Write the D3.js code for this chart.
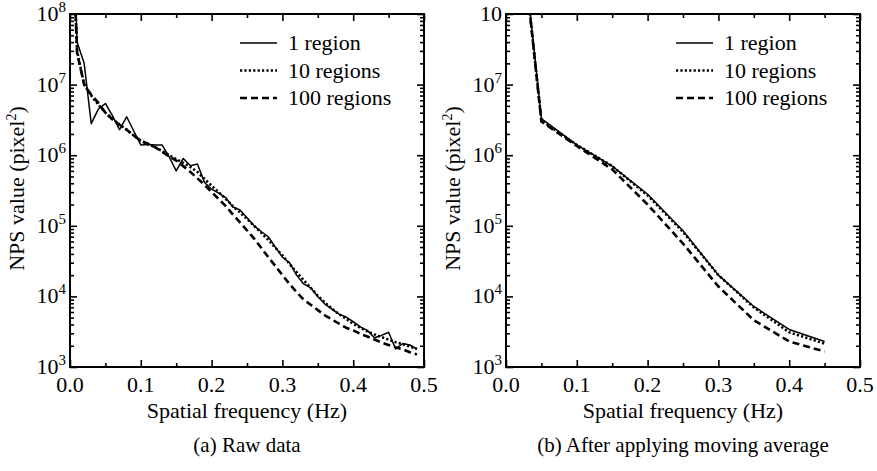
<!DOCTYPE html>
<html>
<head>
<meta charset="utf-8">
<script src="https://cdn.jsdelivr.net/npm/d3@7"></script>
<style>
  body { margin: 0; background: #fff; }
</style>
</head>
<body>
<div id="chart"></div>
<script>
"use strict";

// spatial frequency (Hz) of the raw spectrum
var freqRaw = [0.00, 0.01, 0.02, 0.03, 0.04, 0.05, 0.06, 0.07, 0.08, 0.09,
  0.10, 0.11, 0.12, 0.13, 0.14, 0.15, 0.16, 0.17, 0.18, 0.19,
  0.20, 0.21, 0.22, 0.23, 0.24, 0.25, 0.26, 0.27, 0.28, 0.29,
  0.30, 0.31, 0.32, 0.33, 0.34, 0.35, 0.36, 0.37, 0.38, 0.39,
  0.40, 0.41, 0.42, 0.43, 0.44, 0.45, 0.46, 0.47, 0.48, 0.49];

// NPS (pixel^2), raw data
var raw1 = [2.4e10, 4.0e7, 2.0e7, 2.8e6, 4.5e6, 5.4e6, 3.6e6, 2.3e6, 3.5e6, 2.2e6,
  1.40e6, 1.42e6, 1.40e6, 1.40e6, 9.5e5, 6.0e5, 9.0e5, 7.1e5, 7.5e5, 4.1e5,
  3.3e5, 2.9e5, 2.5e5, 1.85e5, 1.68e5, 1.3e5, 1.0e5, 8.3e4, 7.0e4, 5.0e4,
  3.6e4, 3.0e4, 2.0e4, 1.5e4, 1.32e4, 1.0e4, 7.8e3, 6.6e3, 5.6e3, 5.1e3,
  4.4e3, 3.7e3, 3.3e3, 2.6e3, 2.8e3, 3.1e3, 1.8e3, 2.15e3, 2.05e3, 1.8e3];
var raw10 = [1.5e10, 3.0e7, 1.0e7, 7.0e6, 5.2e6, 4.0e6, 3.3e6, 2.7e6, 2.3e6, 1.9e6,
  1.6e6, 1.45e6, 1.3e6, 1.15e6, 1.0e6, 8.8e5, 7.8e5, 6.8e5, 5.8e5, 4.6e5,
  3.7e5, 3.0e5, 2.4e5, 1.9e5, 1.55e5, 1.25e5, 1.0e5, 8.0e4, 6.3e4, 4.9e4,
  3.8e4, 2.9e4, 2.2e4, 1.7e4, 1.32e4, 1.02e4, 8.2e3, 6.7e3, 5.6e3, 4.8e3,
  4.1e3, 3.6e3, 3.2e3, 2.9e3, 2.65e3, 2.45e3, 2.25e3, 2.1e3, 1.95e3, 1.8e3];
var raw100 = [1.5e10, 2.8e7, 1.0e7, 7.2e6, 5.5e6, 4.0e6, 3.2e6, 2.7e6, 2.3e6, 1.9e6,
  1.6e6, 1.45e6, 1.3e6, 1.12e6, 9.6e5, 8.4e5, 7.0e5, 5.8e5, 4.7e5, 3.8e5,
  3.0e5, 2.4e5, 1.9e5, 1.45e5, 1.12e5, 8.6e4, 6.6e4, 4.9e4, 3.6e4, 2.7e4,
  2.0e4, 1.5e4, 1.15e4, 9.0e3, 7.6e3, 6.4e3, 5.4e3, 4.7e3, 4.1e3, 3.6e3,
  3.3e3, 2.95e3, 2.7e3, 2.45e3, 2.22e3, 2.05e3, 1.9e3, 1.78e3, 1.62e3, 1.5e3];

// after moving average
var freqAvg = [0.00, 0.05, 0.10, 0.15, 0.20, 0.25, 0.30, 0.35, 0.40, 0.45];
var avg1 = [1.8e11, 3.3e6, 1.4e6, 7.0e5, 2.8e5, 8.5e4, 2.0e4, 7.2e3, 3.4e3, 2.3e3];
var avg10 = [1.5e11, 3.1e6, 1.4e6, 7.0e5, 2.7e5, 8.2e4, 2.0e4, 7.0e3, 3.1e3, 2.15e3];
var avg100 = [1.5e11, 3.0e6, 1.35e6, 6.3e5, 2.0e5, 5.6e4, 1.38e4, 4.6e3, 2.3e3, 1.66e3];

var seriesNames = ["1 region", "10 regions", "100 regions"];
var xTicks = [0.0, 0.1, 0.2, 0.3, 0.4, 0.5];
var xTickLabels = ["0.0", "0.1", "0.2", "0.3", "0.4", "0.5"];
var xMinorTicks = [0.05, 0.15, 0.25, 0.35, 0.45];
var yTicks = [1e3, 1e4, 1e5, 1e6, 1e7, 1e8];
var yExpLeft = ["3", "4", "5", "6", "7", "8"];
var yExpRight = ["3", "4", "5", "6", "7", ""];   // the top label reads just "10"
var captions = ["(a) Raw data", "(b) After applying moving average"];

var width = 877, height = 471;
var serif = "'Liberation Serif', 'Times New Roman', serif";
var styles = [
  {w: 1.5, dash: null},
  {w: 2.6, dash: "2.2,2.2"},
  {w: 2.6, dash: "7,4"}
];

var svg = d3.select("#chart").append("svg")
  .attr("width", width).attr("height", height);

function label(sel, size) {
  return sel.style("font-family", serif).style("font-size", size + "px");
}

function drawPanel(id, left, freq, series, yExp, caption) {
  var top = 14, w = 354, h = 353;
  var x = d3.scaleLinear().domain([0, 0.5]).range([0, w]);
  var y = d3.scaleLog().domain([1e3, 1e8]).range([h, 0]);

  var g = svg.append("g").attr("transform", "translate(" + left + "," + top + ")");

  g.append("clipPath").attr("id", "clip" + id)
    .append("rect").attr("width", w).attr("height", h);

  var minorY = [];
  yTicks.slice(0, -1).forEach(function (t) {
    for (var k = 2; k < 10; k++) minorY.push(t * k);
  });

  // inward ticks on all four sides
  function tickAxis(axisFn, scale, vals, size, tx) {
    var a = g.append("g").attr("class", "ticks").attr("transform", tx || null)
      .call(axisFn(scale).tickValues(vals).tickSize(size).tickFormat(""));
    a.select(".domain").remove();
    a.selectAll("line").attr("stroke", "#000").attr("stroke-width", 1.6);
  }
  tickAxis(d3.axisBottom, x, xTicks, -7, "translate(0," + h + ")");
  tickAxis(d3.axisBottom, x, xMinorTicks, -4, "translate(0," + h + ")");
  tickAxis(d3.axisTop, x, xTicks, -7);
  tickAxis(d3.axisTop, x, xMinorTicks, -4);
  tickAxis(d3.axisLeft, y, yTicks, -7);
  tickAxis(d3.axisLeft, y, minorY, -4);
  tickAxis(d3.axisRight, y, yTicks, -7, "translate(" + w + ",0)");
  tickAxis(d3.axisRight, y, minorY, -4, "translate(" + w + ",0)");

  // tick labels
  label(g.selectAll(".xl").data(xTicks).join("text"), 22)
    .attr("x", function (d) { return x(d); })
    .attr("y", h + 25)
    .attr("text-anchor", "middle")
    .text(function (d, i) { return xTickLabels[i]; });

  var yl = label(g.selectAll(".yl").data(yTicks).join("text"), 22)
    .attr("x", -4)
    .attr("y", function (d) { return y(d) + 7; })
    .attr("text-anchor", "end");
  yl.append("tspan").text("10");
  yl.append("tspan").attr("dy", -9).style("font-size", "15px")
    .text(function (d, i) { return yExp[i]; });

  // curves
  var line = d3.line()
    .x(function (d) { return x(d[0]); })
    .y(function (d) { return y(d[1]); });
  var lines = g.append("g").attr("clip-path", "url(#clip" + id + ")");
  series.forEach(function (vals, i) {
    lines.append("path")
      .datum(freq.map(function (f, j) { return [f, vals[j]]; }))
      .attr("fill", "none")
      .attr("stroke", "#000")
      .attr("stroke-width", styles[i].w)
      .attr("stroke-dasharray", styles[i].dash)
      .attr("stroke-linejoin", "round")
      .attr("d", line);
  });

  // frame
  g.append("rect").attr("width", w).attr("height", h)
    .attr("fill", "none").attr("stroke", "#000").attr("stroke-width", 2);

  // legend
  var lg = g.append("g").attr("transform", "translate(170,29)");
  seriesNames.forEach(function (name, i) {
    lg.append("line")
      .attr("x1", 0).attr("x2", 37).attr("y1", i * 27.5).attr("y2", i * 27.5)
      .attr("stroke", "#000")
      .attr("stroke-width", styles[i].w)
      .attr("stroke-dasharray", styles[i].dash);
    label(lg.append("text"), 22).attr("x", 48).attr("y", i * 27.5 + 7)
      .text(name);
  });

  // axis titles
  label(g.append("text"), 22)
    .attr("x", w / 2).attr("y", h + 51)
    .attr("text-anchor", "middle")
    .text("Spatial frequency (Hz)");
  var yt = label(g.append("text"), 22)
    .attr("transform", "translate(-46," + (h / 2 - 2) + ") rotate(-90)")
    .attr("text-anchor", "middle");
  yt.append("tspan").text("NPS value (pixel");
  yt.append("tspan").attr("dy", -8).style("font-size", "14px").text("2");
  yt.append("tspan").attr("dy", 8).text(")");

  label(g.append("text"), 21)
    .attr("x", w / 2).attr("y", h + 85)
    .attr("text-anchor", "middle")
    .text(caption);
}

drawPanel("a", 70, freqRaw, [raw1, raw10, raw100], yExpLeft, captions[0]);
drawPanel("b", 506, freqAvg, [avg1, avg10, avg100], yExpRight, captions[1]);
</script>
</body>
</html>
